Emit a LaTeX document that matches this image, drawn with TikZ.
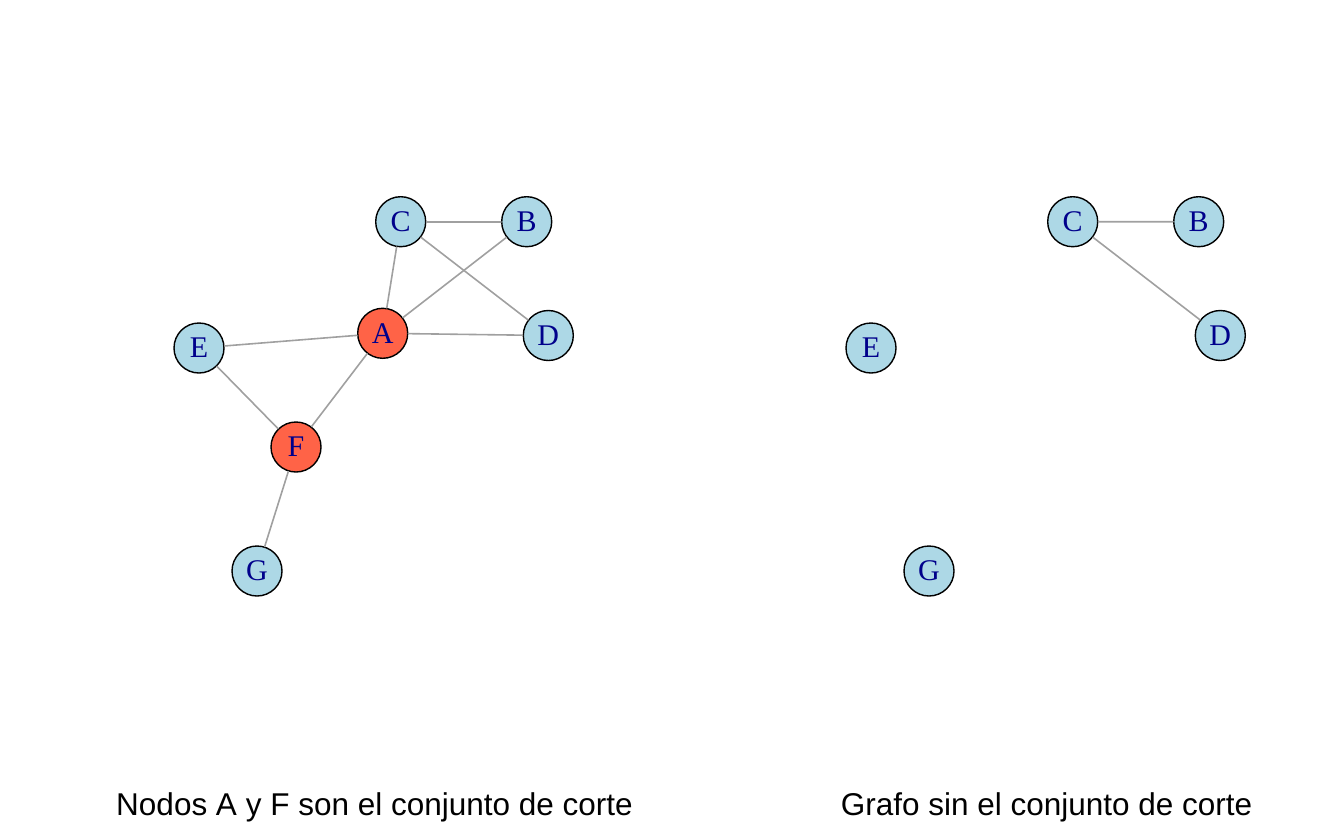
\documentclass[tikz,border=0pt]{standalone}
\usepackage{fontspec}
\setmainfont{Liberation Serif}
\setsansfont{Liberation Sans}
\definecolor{nodoazul}{HTML}{ADD8E6}
\definecolor{nodocorte}{HTML}{FF6347}
\definecolor{textoazul}{HTML}{00008B}
\definecolor{arista}{HTML}{A0A0A0}
\begin{document}
\begin{tikzpicture}[x=1pt, y=-1pt, line join=round, line cap=round,
		nodo/.style={circle, draw=black, line width=1.4pt, fill=nodoazul, minimum size=50pt, inner sep=0pt,
			text=textoazul, font=\fontsize{30}{32}\selectfont},
		corte/.style={nodo, fill=nodocorte},
		arco/.style={draw=arista, line width=1.6pt},
		titulo/.style={font=\sffamily\fontsize{31.5}{34}\selectfont}]
		\def\dx{672}
		\useasboundingbox (0,0) rectangle (1344,830);
		% grafo completo
		\node[corte] (A) at (382.7,333.3) {A};
		\node[nodo] (B) at (526.7,221.7) {B};
		\node[nodo] (C) at (400.7,221.7) {C};
		\node[nodo] (D) at (548.3,335.5) {D};
		\node[nodo] (E) at (199,348) {E};
		\node[corte] (F) at (296,447) {F};
		\node[nodo] (G) at (257,571) {G};
		\foreach \u/\v in {C/B,C/A,C/D,B/A,A/D,A/E,A/F,E/F,F/G}
		\draw[arco] (\u) -- (\v);
		\node[titulo] (t1) at (374.5,807) {Nodos A y F son el conjunto de corte};
		% grafo sin A y F
		\node[nodo] (B2) at (526.7+\dx,221.7) {B};
		\node[nodo] (C2) at (400.7+\dx,221.7) {C};
		\node[nodo] (D2) at (548.3+\dx,335.5) {D};
		\node[nodo] (E2) at (199+\dx,348) {E};
		\node[nodo] (G2) at (257+\dx,571) {G};
		\draw[arco] (C2) -- (B2) (C2) -- (D2);
		\node[titulo] (t2) at (374.5+\dx,807) {Grafo sin el conjunto de corte};
	\end{tikzpicture}
\end{document}
